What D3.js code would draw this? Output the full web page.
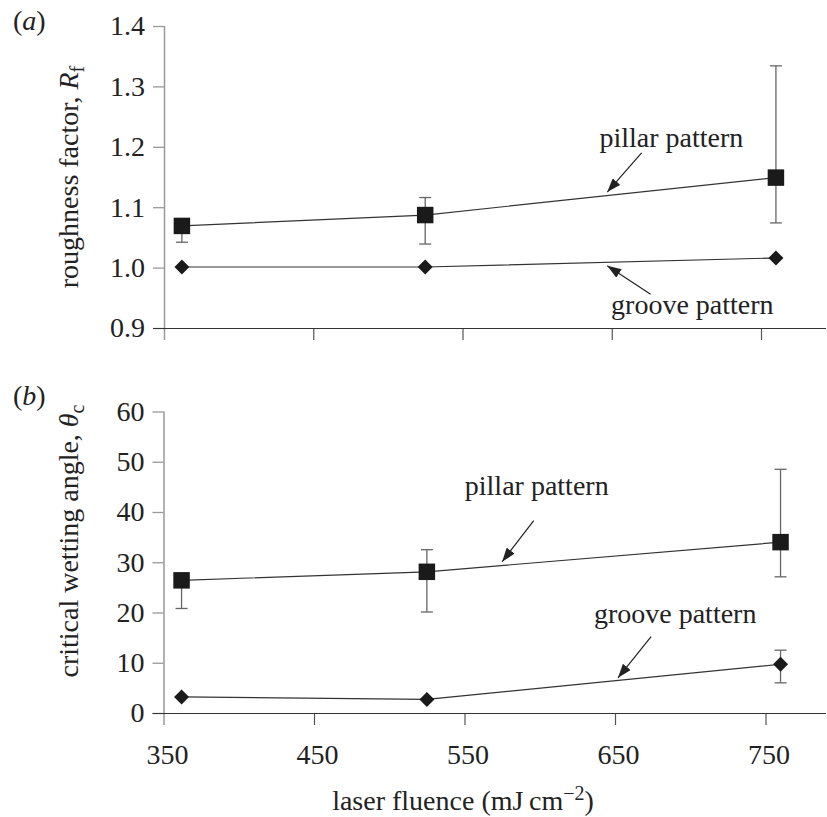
<!DOCTYPE html>
<html>
<head>
<meta charset="utf-8">
<script src="https://cdn.jsdelivr.net/npm/d3@7"></script>
<style>
  body { margin: 0; background: #fff; }
  svg text { font-family: "Liberation Serif", "Times New Roman", serif; fill: #222; }
</style>
</head>
<body>
<div id="grafico"></div>
<script>
// Data
const xTicks = [350, 450, 550, 650, 750];
const fluence = [362, 525, 760];

const roughTicks = [0.9, 1.0, 1.1, 1.2, 1.3, 1.4];
const roughPillar = [1.069, 1.087, 1.149];
const roughPillarErrUp = [0.012, 0.029, 0.185];
const roughPillarErrDown = [0.027, 0.048, 0.075];
const roughGroove = [1.001, 1.001, 1.016];
const roughGrooveErrUp = [0, 0, 0];
const roughGrooveErrDown = [0, 0, 0];

const angleTicks = [0, 10, 20, 30, 40, 50, 60];
const anglePillar = [26.4, 28.1, 34.0];
const anglePillarErrUp = [1.2, 4.4, 14.5];
const anglePillarErrDown = [5.6, 8.0, 6.9];
const angleGroove = [3.2, 2.7, 9.7];
const angleGrooveErrUp = [0, 0, 2.8];
const angleGrooveErrDown = [0, 0, 3.7];

const W = 827, H = 817;
const svg = d3.select("#grafico").append("svg")
    .attr("width", W)
    .attr("height", H);

// Arrow head
svg.append("defs").append("marker")
    .attr("id", "flecha")
    .attr("markerUnits", "userSpaceOnUse")
    .attr("viewBox", "0 0 14 10")
    .attr("refX", 14).attr("refY", 5)
    .attr("markerWidth", 14).attr("markerHeight", 10)
    .attr("orient", "auto")
    .append("path")
    .attr("d", "M0,0L14,5L0,10Z")
    .attr("fill", "#222");

function drawPanel(p) {
    const g = svg.append("g");
    const x = p.x, y = p.y;
    const x0 = x.range()[0], x1 = x.range()[1];
    const yBase = y(p.yTicks[0]);

    // Eje Y
    g.append("g")
        .attr("transform", `translate(${x0},0)`)
        .call(d3.axisLeft(y).tickValues(p.yTicks).tickFormat(p.fmt)
            .tickSize(11).tickPadding(8).tickSizeOuter(0))
        .call(a => a.select(".domain").remove())
        .call(a => a.selectAll("line").attr("stroke", "#999").attr("stroke-width", 1.3))
        .call(a => a.selectAll("text").style("font-size", "28px")
            .style("font-family", "Liberation Serif").attr("fill", "#222"));

    g.append("line")
        .attr("x1", x0 + 0.5).attr("x2", x0 + 0.5)
        .attr("y1", y(p.yTicks[p.yTicks.length - 1]))
        .attr("y2", yBase + 12)
        .attr("stroke", "#999").attr("stroke-width", 1.5);

    // Eje X
    g.append("g")
        .attr("transform", `translate(0,${yBase})`)
        .call(d3.axisBottom(x).tickValues(xTicks.slice(1))
            .tickFormat(p.showX ? d3.format("d") : "")
            .tickSize(12).tickPadding(19).tickSizeOuter(0))
        .call(a => a.select(".domain").remove())
        .call(a => a.selectAll("line").attr("stroke", "#555").attr("stroke-width", 1.2))
        .call(a => a.selectAll("text").style("font-size", "28px")
            .style("font-family", "Liberation Serif").attr("fill", "#222").attr("dx", 3));

    if (p.showX) {
        g.append("text")
            .attr("x", x(xTicks[0]) + 4).attr("y", yBase + 51)
            .attr("text-anchor", "middle")
            .style("font-size", "28px")
            .text(xTicks[0]);
    }

    g.append("line")
        .attr("x1", x0 - 11).attr("x2", x1)
        .attr("y1", yBase + 0.5).attr("y2", yBase + 0.5)
        .attr("stroke", "#333").attr("stroke-width", 1.2);

    const line = d3.line().x((d, i) => x(fluence[i])).y(d => y(d));

    p.series.forEach(s => {
        // error bars
        s.values.forEach((v, i) => {
            if (!s.up[i] && !s.down[i]) return;
            const cx = x(fluence[i]);
            const yt = y(v + s.up[i]), yb = y(v - s.down[i]);
            g.append("line").attr("x1", cx).attr("x2", cx).attr("y1", yt).attr("y2", yb)
                .attr("stroke", "#666").attr("stroke-width", 1.3);
            [yt, yb].forEach(yy => {
                g.append("line").attr("x1", cx - 6).attr("x2", cx + 6).attr("y1", yy).attr("y2", yy)
                    .attr("stroke", "#666").attr("stroke-width", 1.3);
            });
        });

        g.append("path")
            .datum(s.values)
            .attr("d", line)
            .attr("fill", "none")
            .attr("stroke", "#333")
            .attr("stroke-width", 1.2);

        g.selectAll(null)
            .data(s.values)
            .enter()
            .append("path")
            .attr("d", d3.symbol(d3.symbolSquare, s.shape === "square" ? 272 : 112))
            .attr("transform", (d, i) => `translate(${x(fluence[i])},${y(d)})` + (s.shape === "diamond" ? " rotate(45)" : ""))
            .attr("fill", "#1a1a1a");
    });

    // Anotaciones
    p.notes.forEach(n => {
        g.append("text")
            .attr("x", x(n.at[0])).attr("y", y(n.at[1]))
            .attr("text-anchor", "middle")
            .style("font-size", "28px")
            .text(n.label);
        g.append("line")
            .attr("x1", x(n.from[0])).attr("y1", y(n.from[1]))
            .attr("x2", x(n.to[0])).attr("y2", y(n.to[1]))
            .attr("stroke", "#222").attr("stroke-width", 1.2)
            .attr("marker-end", "url(#flecha)");
    });

    // Titulo del eje Y
    const t = g.append("text")
        .attr("transform", `translate(78,${p.titleY}) rotate(-90)`)
        .attr("text-anchor", "middle")
        .style("font-size", "28px");
    t.append("tspan").text(p.title);
    t.append("tspan").style("font-style", "italic").text(p.sym);
    t.append("tspan").style("font-size", "20px").attr("dy", 6).text(p.sub);

    // (a) / (b)
    const tag = g.append("text").attr("x", 13).attr("y", p.tagY).style("font-size", "28px");
    tag.append("tspan").text("(");
    tag.append("tspan").style("font-style", "italic").text(p.tag);
    tag.append("tspan").text(")");
}

drawPanel({
    x: d3.scaleLinear().domain([350, 350 + (826 - 164) / (597 / 400)]).range([164, 826]),
    y: d3.scaleLinear().domain([0.9, 1.4]).range([328, 26]),
    yTicks: roughTicks,
    fmt: d3.format(".1f"),
    showX: false,
    series: [
        { values: roughPillar, up: roughPillarErrUp, down: roughPillarErrDown, shape: "square" },
        { values: roughGroove, up: roughGrooveErrUp, down: roughGrooveErrDown, shape: "diamond" }
    ],
    notes: [
        { label: "pillar pattern", at: [690, 1.200], from: [670, 1.190], to: [647, 1.125] },
        { label: "groove pattern", at: [704, 0.924], from: [676, 0.956], to: [647, 1.003] }
    ],
    title: "roughness factor, ", sym: "R", sub: "f", titleY: 177,
    tag: "a", tagY: 30
});

drawPanel({
    x: d3.scaleLinear().domain([350, 350 + (826 - 163.5) / (602 / 400)]).range([163.5, 826]),
    y: d3.scaleLinear().domain([0, 60]).range([713, 411.5]),
    yTicks: angleTicks,
    fmt: d3.format("d"),
    showX: true,
    series: [
        { values: anglePillar, up: anglePillarErrUp, down: anglePillarErrDown, shape: "square" },
        { values: angleGroove, up: angleGrooveErrUp, down: angleGrooveErrDown, shape: "diamond" }
    ],
    notes: [
        { label: "pillar pattern", at: [598, 43.4], from: [596, 38.3], to: [575, 30.1] },
        { label: "groove pattern", at: [690, 17.9], from: [674, 15.2], to: [652, 7.0] }
    ],
    title: "critical wetting angle, ", sym: "\u03b8", sub: "c", titleY: 541,
    tag: "b", tagY: 405
});

// Titulo del eje X
const xt = svg.append("text")
    .attr("x", 463).attr("y", 810)
    .attr("text-anchor", "middle")
    .style("font-size", "28px");
xt.append("tspan").text("laser fluence (mJ\u2009cm");
xt.append("tspan").style("font-size", "20px").attr("dy", -10).text("\u22122");
xt.append("tspan").attr("dy", 10).text(")");
</script>
</body>
</html>
